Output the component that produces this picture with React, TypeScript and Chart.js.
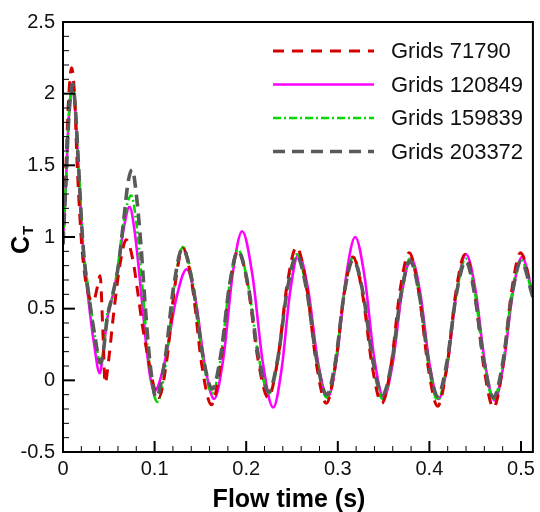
import React, { useEffect, useRef } from "react";
import { Chart, registerables } from "chart.js";
Chart.register(...registerables);

const FONT = '"Liberation Sans", Arial, Helvetica, sans-serif';

const seriesNames = ["Grids 71790", "Grids 120849", "Grids 159839", "Grids 203372"];

const xTicks = [0, 0.1, 0.2, 0.3, 0.4, 0.5];
const yTicks = [-0.5, 0, 0.5, 1, 1.5, 2, 2.5];

const t71790 = [0, 0.003, 0.006, 0.0094, 0.0125, 0.0155, 0.021, 0.027, 0.033, 0.0375, 0.0405, 0.0435, 0.046, 0.05, 0.055, 0.062, 0.069, 0.0763, 0.0817, 0.087, 0.094, 0.0995, 0.1045, 0.1133, 0.1222, 0.131, 0.1413, 0.1517, 0.162, 0.1717, 0.1813, 0.191, 0.202, 0.213, 0.224, 0.2343, 0.2447, 0.255, 0.2658, 0.2767, 0.2875, 0.2972, 0.3068, 0.3165, 0.327, 0.3375, 0.348, 0.358, 0.368, 0.378, 0.3883, 0.3987, 0.409, 0.419, 0.429, 0.439, 0.4493, 0.4597, 0.47, 0.4798, 0.4897, 0.4995, 0.513];
const ct71790 = [0.95, 1.45, 1.95, 2.18, 2.0, 1.5, 0.9, 0.62, 0.55, 0.65, 0.73, 0.35, -0.02, 0.15, 0.45, 0.8, 0.98, 0.84, 0.61, 0.37, 0.12, -0.05, -0.12, 0.14, 0.66, 0.92, 0.65, 0.1, -0.17, 0.1, 0.63, 0.9, 0.65, 0.14, -0.12, 0.14, 0.67, 0.93, 0.66, 0.11, -0.16, 0.1, 0.6, 0.86, 0.6, 0.1, -0.16, 0.1, 0.63, 0.89, 0.62, 0.09, -0.18, 0.09, 0.62, 0.88, 0.61, 0.08, -0.19, 0.08, 0.62, 0.89, 0.6];

const t120849 = [0, 0.003, 0.0065, 0.0105, 0.0135, 0.0166, 0.022, 0.028, 0.034, 0.04, 0.044, 0.048, 0.0546, 0.06, 0.066, 0.0727, 0.078, 0.084, 0.09, 0.095, 0.0998, 0.1115, 0.1233, 0.135, 0.145, 0.155, 0.165, 0.1752, 0.1854, 0.1956, 0.2069, 0.2182, 0.2295, 0.2387, 0.2478, 0.257, 0.2677, 0.2783, 0.289, 0.299, 0.309, 0.319, 0.3293, 0.3397, 0.35, 0.36, 0.37, 0.38, 0.39, 0.4, 0.41, 0.42, 0.43, 0.44, 0.4503, 0.4607, 0.471, 0.481, 0.491, 0.501, 0.513];
const ct120849 = [0.95, 1.35, 1.85, 2.05, 1.88, 1.52, 0.92, 0.55, 0.25, 0.05, 0.2, 0.42, 0.6, 0.78, 1.05, 1.21, 1.05, 0.7, 0.3, 0.03, -0.075, 0.14, 0.56, 0.775, 0.55, 0.1, -0.13, 0.16, 0.75, 1.04, 0.73, 0.12, -0.19, 0.08, 0.61, 0.88, 0.63, 0.13, -0.12, 0.16, 0.72, 1.0, 0.72, 0.16, -0.12, 0.12, 0.61, 0.85, 0.61, 0.12, -0.13, 0.12, 0.63, 0.88, 0.63, 0.12, -0.14, 0.11, 0.61, 0.86, 0.6];

const t159839 = [0, 0.003, 0.0065, 0.0105, 0.0135, 0.0166, 0.022, 0.028, 0.035, 0.041, 0.044, 0.048, 0.0546, 0.06, 0.066, 0.0745, 0.08, 0.086, 0.092, 0.097, 0.103, 0.1123, 0.1217, 0.131, 0.1417, 0.1523, 0.163, 0.1723, 0.1817, 0.191, 0.2023, 0.2137, 0.225, 0.235, 0.245, 0.255, 0.266, 0.277, 0.288, 0.2977, 0.3073, 0.317, 0.3277, 0.3383, 0.349, 0.359, 0.369, 0.379, 0.389, 0.399, 0.409, 0.4192, 0.4294, 0.4396, 0.4497, 0.4599, 0.47, 0.48, 0.49, 0.5, 0.513];
const ct159839 = [0.95, 1.35, 1.85, 2.06, 1.9, 1.55, 0.95, 0.62, 0.3, 0.11, 0.2, 0.45, 0.6, 0.8, 1.1, 1.29, 1.1, 0.7, 0.25, -0.02, -0.15, 0.12, 0.66, 0.93, 0.68, 0.17, -0.09, 0.16, 0.66, 0.91, 0.66, 0.16, -0.09, 0.15, 0.64, 0.88, 0.63, 0.13, -0.12, 0.13, 0.62, 0.86, 0.61, 0.12, -0.13, 0.12, 0.61, 0.85, 0.6, 0.11, -0.14, 0.11, 0.6, 0.85, 0.61, 0.12, -0.13, 0.11, 0.6, 0.84, 0.59];

const t203372 = [0, 0.003, 0.0065, 0.0105, 0.0135, 0.0166, 0.022, 0.028, 0.035, 0.041, 0.044, 0.048, 0.0546, 0.06, 0.066, 0.071, 0.0756, 0.08, 0.085, 0.09, 0.095, 0.1016, 0.1112, 0.1209, 0.1305, 0.1413, 0.1522, 0.163, 0.1723, 0.1817, 0.191, 0.2022, 0.2133, 0.2245, 0.2347, 0.2448, 0.255, 0.266, 0.277, 0.288, 0.2976, 0.3071, 0.3167, 0.3275, 0.3382, 0.349, 0.359, 0.369, 0.379, 0.389, 0.399, 0.409, 0.4192, 0.4294, 0.4396, 0.4497, 0.4599, 0.47, 0.48, 0.49, 0.5, 0.513];
const ct203372 = [0.95, 1.35, 1.85, 2.07, 1.9, 1.54, 0.93, 0.6, 0.3, 0.12, 0.2, 0.42, 0.61, 0.78, 1.1, 1.38, 1.47, 1.3, 0.95, 0.5, 0.12, -0.12, 0.14, 0.66, 0.92, 0.68, 0.19, -0.06, 0.18, 0.66, 0.9, 0.66, 0.17, -0.08, 0.16, 0.63, 0.87, 0.63, 0.14, -0.1, 0.14, 0.61, 0.84, 0.61, 0.14, -0.1, 0.13, 0.6, 0.83, 0.6, 0.13, -0.11, 0.13, 0.6, 0.83, 0.59, 0.12, -0.12, 0.12, 0.59, 0.83, 0.58];

const STYLES = [
  { color: "#d40000", dash: [11, 8], width: 3, order: 1 },
  { color: "#ff00ff", dash: [] as number[], width: 2.6, order: 3 },
  { color: "#00d800", dash: [8, 3, 2, 3], width: 2.6, order: 2 },
  { color: "#5a5a5a", dash: [12, 7], width: 3.6, order: 0 },
];

const toPoints = (ts: number[], vs: number[]) => ts.map((t, i) => ({ x: t, y: vs[i] }));

const decorPlugin = {
  id: "decor",
  afterDatasetsDraw(chart: any) {
    const { ctx, chartArea: a, scales } = chart;
    const xs = scales.x;
    const ys = scales.y;
    ctx.save();
    ctx.setLineDash([]);
    ctx.strokeStyle = "#000";
    ctx.lineWidth = 2;
    ctx.strokeRect(a.left, a.top, a.right - a.left, a.bottom - a.top);
    for (let i = 0; i < yTicks.length; i++) {
      const v = yTicks[i];
      const py = ys.getPixelForValue(v);
      ctx.lineWidth = 2;
      ctx.beginPath();
      ctx.moveTo(a.left, py);
      ctx.lineTo(a.left + 12, py);
      ctx.stroke();
      if (i < yTicks.length - 1) {
        ctx.lineWidth = 1;
        ctx.beginPath();
        for (let k = 1; k < 5; k++) {
          const pm = ys.getPixelForValue(v + ((yTicks[i + 1] - v) * k) / 5);
          ctx.moveTo(a.left, pm);
          ctx.lineTo(a.left + 6, pm);
        }
        ctx.stroke();
      }
    }
    const xEdges = [...xTicks, xTicks[xTicks.length - 1] + 0.1];
    for (let i = 0; i < xEdges.length - 1; i++) {
      const v = xEdges[i];
      const px = xs.getPixelForValue(v);
      ctx.lineWidth = 2;
      ctx.beginPath();
      ctx.moveTo(px, a.bottom);
      ctx.lineTo(px, a.bottom - 11);
      ctx.stroke();
      ctx.lineWidth = 1;
      ctx.beginPath();
      for (let k = 1; k < 5; k++) {
        const val = v + ((xEdges[i + 1] - v) * k) / 5;
        const pm = xs.getPixelForValue(val);
        if (pm > a.right - 1) continue;
        ctx.moveTo(pm, a.bottom);
        ctx.lineTo(pm, a.bottom - 6);
      }
      ctx.stroke();
    }
    ctx.restore();
  },
  afterDraw(chart: any) {
    const { ctx, chartArea: a } = chart;
    ctx.save();
    const rowY = [a.top + 29, a.top + 62.5, a.top + 96, a.top + 129.5];
    for (let i = 0; i < seriesNames.length; i++) {
      const s = STYLES[i];
      ctx.strokeStyle = s.color;
      ctx.lineWidth = s.width;
      ctx.setLineDash(s.dash);
      ctx.beginPath();
      ctx.moveTo(273, rowY[i]);
      ctx.lineTo(374, rowY[i]);
      ctx.stroke();
      ctx.setLineDash([]);
      ctx.fillStyle = "#111";
      ctx.font = `22px ${FONT}`;
      ctx.textAlign = "left";
      ctx.textBaseline = "middle";
      ctx.fillText(seriesNames[i], 391, rowY[i] + 1);
    }
    ctx.fillStyle = "#000";
    ctx.font = `bold 25px ${FONT}`;
    ctx.textAlign = "center";
    ctx.textBaseline = "alphabetic";
    ctx.fillText("Flow time (s)", 289, 507);
    ctx.translate(29, 254);
    ctx.rotate(-Math.PI / 2);
    ctx.textAlign = "left";
    ctx.font = `bold 25px ${FONT}`;
    ctx.fillText("C", 0, 0);
    const w = ctx.measureText("C").width;
    ctx.font = `bold 15px ${FONT}`;
    ctx.fillText("T", w + 1, 4);
    ctx.restore();
  },
};

export default function App() {
  const ref = useRef<HTMLCanvasElement | null>(null);
  useEffect(() => {
    if (!ref.current) return;
    const series = [
      toPoints(t71790, ct71790),
      toPoints(t120849, ct120849),
      toPoints(t159839, ct159839),
      toPoints(t203372, ct203372),
    ];
    const chart = new Chart(ref.current, {
      type: "line",
      data: {
        datasets: series.map((pts, i) => ({
          label: seriesNames[i],
          data: pts,
          borderColor: STYLES[i].color,
          borderWidth: STYLES[i].width,
          borderDash: STYLES[i].dash,
          pointRadius: 0,
          fill: false,
          cubicInterpolationMode: "monotone" as const,
          order: STYLES[i].order,
        })),
      },
      options: {
        responsive: false,
        animation: false,
        layout: { padding: { left: 0, top: 22, right: 4, bottom: 0 } },
        plugins: { legend: { display: false }, tooltip: { enabled: false } },
        scales: {
          x: {
            type: "linear",
            min: 0,
            max: 0.513,
            grid: { display: false, drawTicks: false },
            border: { display: false },
            afterBuildTicks: (s: any) => {
              s.ticks = xTicks.map((v) => ({ value: v }));
            },
            afterFit: (s: any) => {
              s.height = 60;
            },
            ticks: {
              autoSkip: false,
              maxRotation: 0,
              padding: 5,
              color: "#111",
              font: { family: FONT, size: 20 },
              callback: (v: any) => String(v),
            },
          },
          y: {
            type: "linear",
            min: -0.5,
            max: 2.5,
            grid: { display: false, drawTicks: false },
            border: { display: false },
            afterBuildTicks: (s: any) => {
              s.ticks = yTicks.map((v) => ({ value: v }));
            },
            afterFit: (s: any) => {
              s.width = 63;
            },
            ticks: {
              autoSkip: false,
              padding: 8,
              color: "#111",
              font: { family: FONT, size: 20 },
              callback: (v: any) => String(v),
            },
          },
        },
      },
      plugins: [decorPlugin],
    });
    return () => chart.destroy();
  }, []);
  return (
    <div style={{ position: "absolute", left: 0, top: 0, width: 540, height: 512, background: "#fff" }}>
      <canvas ref={ref} width={540} height={512} style={{ display: "block" }} />
    </div>
  );
}
